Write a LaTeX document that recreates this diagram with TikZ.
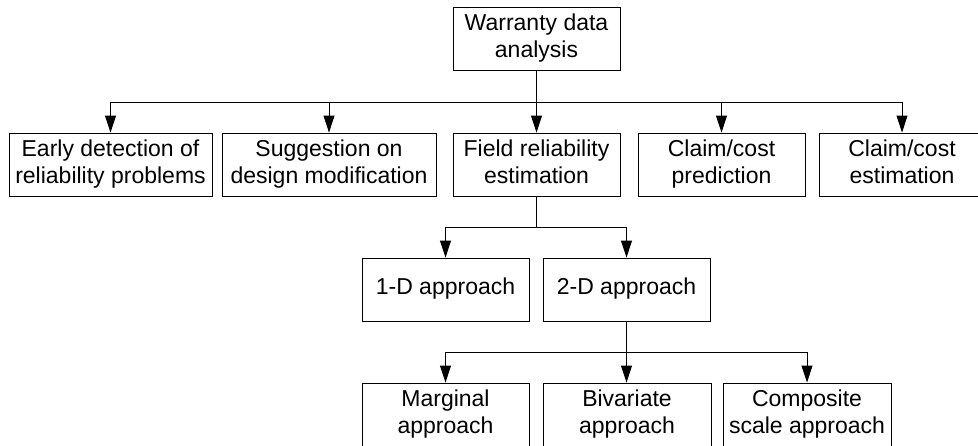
\documentclass[tikz,border=0pt]{standalone}
\usepackage{fontspec}
\setmainfont{Liberation Sans}
\usetikzlibrary{arrows.meta}

\tikzset{
    box/.style={draw, line width=0.9pt, align=center, minimum height=63pt,
        inner sep=0pt, font=\fontsize{23}{27}\selectfont},
    link/.style={line width=0.9pt, -{Triangle[length=17pt,width=11pt]}}
}

\begin{document}
\begin{tikzpicture}[x=1pt,y=-1pt]
        \useasboundingbox (0,0) rectangle (978,445);
        \node[box, minimum width=167pt] (wda) at (536.5,38.5) {\strut Warranty data\\\strut analysis};
        % second row
        \node[box, minimum width=203pt] (early) at (110.5,164.5) {\strut Early detection of\\\strut reliability problems};
        \node[box, minimum width=214pt] (design) at (329,164.5) {\strut Suggestion on\\\strut design modification};
        \node[box, minimum width=167pt] (field) at (536.5,164.5) {\strut Field reliability\\\strut estimation};
        \node[box, minimum width=167pt] (pred) at (721.5,164.5) {\strut Claim/cost\\\strut prediction};
        \node[box, minimum width=166pt] (est) at (902,164.5) {\strut Claim/cost\\\strut estimation};
        % third row
        \node[box, minimum width=167pt] (oned) at (445.5,289.5) {\strut 1-D approach};
        \node[box, minimum width=167pt] (twod) at (626.5,289.5) {\strut 2-D approach};
        % fourth row
        \node[box, minimum width=167pt] (marg) at (445.5,414.5) {\strut Marginal\\\strut approach};
        \node[box, minimum width=168pt] (biv) at (627,414.5) {\strut Bivariate\\\strut approach};
        \node[box, minimum width=168pt] (comp) at (807,414.5) {\strut Composite\\\strut scale approach};

        \draw[link] (wda.south) -- ++(0,32) -| (early.north);
        \draw[link] (wda.south) -- ++(0,32) -| (design.north);
        \draw[link] (wda.south) -- (field.north);
        \draw[link] (wda.south) -- ++(0,32) -| (pred.north);
        \draw[link] (wda.south) -- ++(0,32) -| (est.north);

        \draw[link] (field.south) -- ++(0,31) -| (oned.north);
        \draw[link] (field.south) -- ++(0,31) -| (twod.north);

        \draw[link] (twod.south) -- ++(0,31) -| (marg.north);
        \draw[link] (twod.south) -- (twod.south |- biv.north);
        \draw[link] (twod.south) -- ++(0,31) -| (comp.north);
\end{tikzpicture}
\end{document}
